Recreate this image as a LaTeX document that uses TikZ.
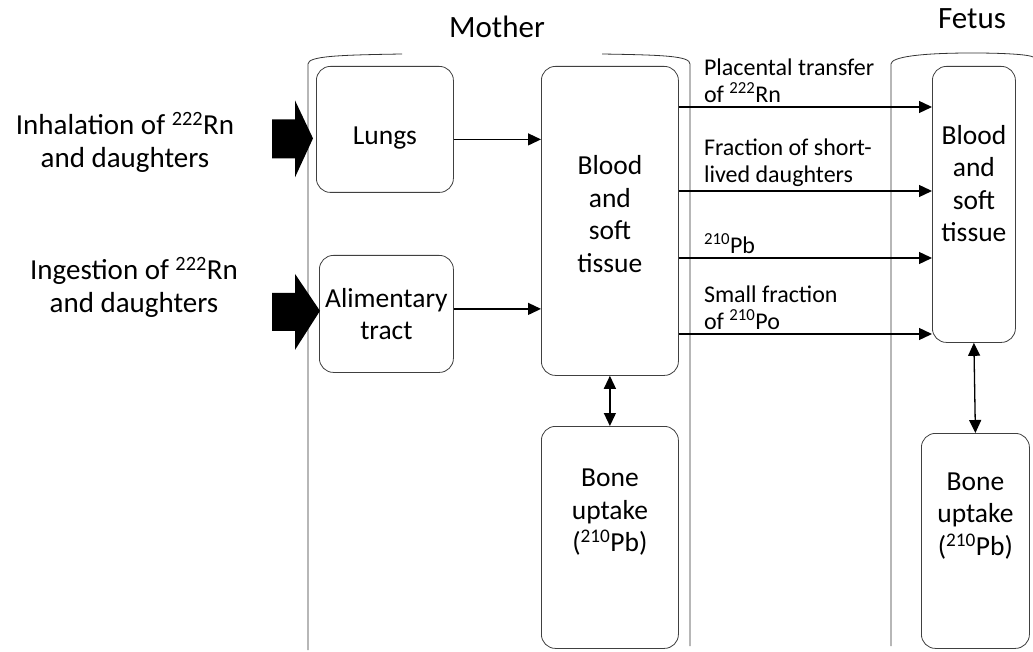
\documentclass[tikz,border=0pt]{standalone}
\usepackage{fontspec}
\setmainfont{Carlito}
\usetikzlibrary{arrows.meta}

\begin{document}
\begin{tikzpicture}[x=1pt, y=-1pt,
	box/.style={draw=black!75, line width=0.8pt, rounded corners=14pt, inner sep=0pt, anchor=north west},
	txt/.style={align=center, font=\fontsize{27.5}{32.5}\selectfont},
	side/.style={align=center, font=\fontsize{29}{33}\selectfont},
	title/.style={font=\fontsize{31}{36}\selectfont},
	lbl/.style={align=left, anchor=south west, inner sep=0pt, font=\fontsize{24}{27}\selectfont},
	flow/.style={-{Triangle[length=13pt,width=12pt]}, line width=1.3pt},
	both/.style={{Triangle[length=13pt,width=12pt]}-{Triangle[length=13pt,width=12pt]}, line width=1.3pt},
	wall/.style={draw=black!80, line width=0.8pt}]
	\useasboundingbox (0,0) rectangle (1033,652);
	\draw[wall] (402,54) .. controls (340,55) and (308,56) .. (308,64) -- (308,650);
	\draw[wall] (602,54) .. controls (664,55) and (690,56) .. (690,64) -- (690,646);
	\draw[wall] (891,646) -- (891,64) .. controls (891,57) and (920,53) .. (972,53) .. controls (1010,53) and (1030,55) .. (1033,57);
	\node[title] (mother) at (497,27) {Mother};
	\node[title] (fetus) at (972,19) {Fetus};
	\node[box, minimum width=137pt, minimum height=126pt] (lungs) at (316,66) {};
	\node[box, minimum width=134pt, minimum height=117pt] (alim) at (319,255) {};
	\node[box, minimum width=137pt, minimum height=309pt] (bloodm) at (541,66) {};
	\node[box, minimum width=137pt, minimum height=222pt] (bonem) at (541,426) {};
	\node[box, minimum width=83pt, minimum height=276pt] (bloodf) at (932,66) {};
	\node[box, minimum width=108pt, minimum height=215pt] (bonef) at (921,433) {};
	\node[txt] (lungst) at ([yshift=-9pt]lungs.center) {Lungs};
	\node[txt] (alimt) at (alim.center) {Alimentary\\tract};
	\node[txt] (bloodmt) at ([yshift=7pt]bloodm.center) {Blood\\and\\soft\\tissue};
	\node[txt] (bonemt) at ([yshift=25pt]bonem.center) {Bone\\uptake\\(\textsuperscript{210}Pb)};
	\node[txt] (bloodft) at ([yshift=21pt]bloodf.center) {Blood\\and\\soft\\tissue};
	\node[txt] (boneft) at ([yshift=25pt]bonef.center) {Bone\\uptake\\(\textsuperscript{210}Pb)};
	\node[side] (inhal) at (125,142) {Inhalation of \textsuperscript{222}Rn\\and daughters};
	\node[side] (inges) at (134,287) {Ingestion of \textsuperscript{222}Rn\\and daughters};
	\fill ([xshift=-3pt,yshift=-9pt]lungs.west) -- ++(-18,-38) -- ++(0,19) -- ++(-23,0) -- ++(0,39) -- ++(23,0) -- ++(0,19) -- cycle;
	\fill ([xshift=1pt,yshift=3pt]alim.west) -- ++(-25,-37) -- ++(0,19) -- ++(-23,0) -- ++(0,38) -- ++(23,0) -- ++(0,19) -- cycle;
	\draw[flow] ([yshift=-10pt]lungs.east) -- ([yshift=-10pt]lungs.east -| bloodm.west);
	\draw[flow] ([yshift=5pt]alim.east) -- ([yshift=5pt]alim.east -| bloodm.west);
	\foreach \y/\t in {107/{Placental transfer\\of \textsuperscript{222}Rn}, 191/{Fraction of short-\\lived daughters}, 258/{\textsuperscript{210}Pb}, 334/{Small fraction\\of \textsuperscript{210}Po}} {
		\coordinate (a\y) at (bloodm.east |- 0,\y);
		\draw[flow] (a\y) -- (bloodf.west |- a\y);
		\node[lbl] at ([xshift=25pt,yshift=4pt]a\y) {\t};
	}
	\draw[both] (bloodm.south) -- (bonem.north);
	\draw[both] (bloodf.south) -- (bonef.north);
\end{tikzpicture}
\end{document}
